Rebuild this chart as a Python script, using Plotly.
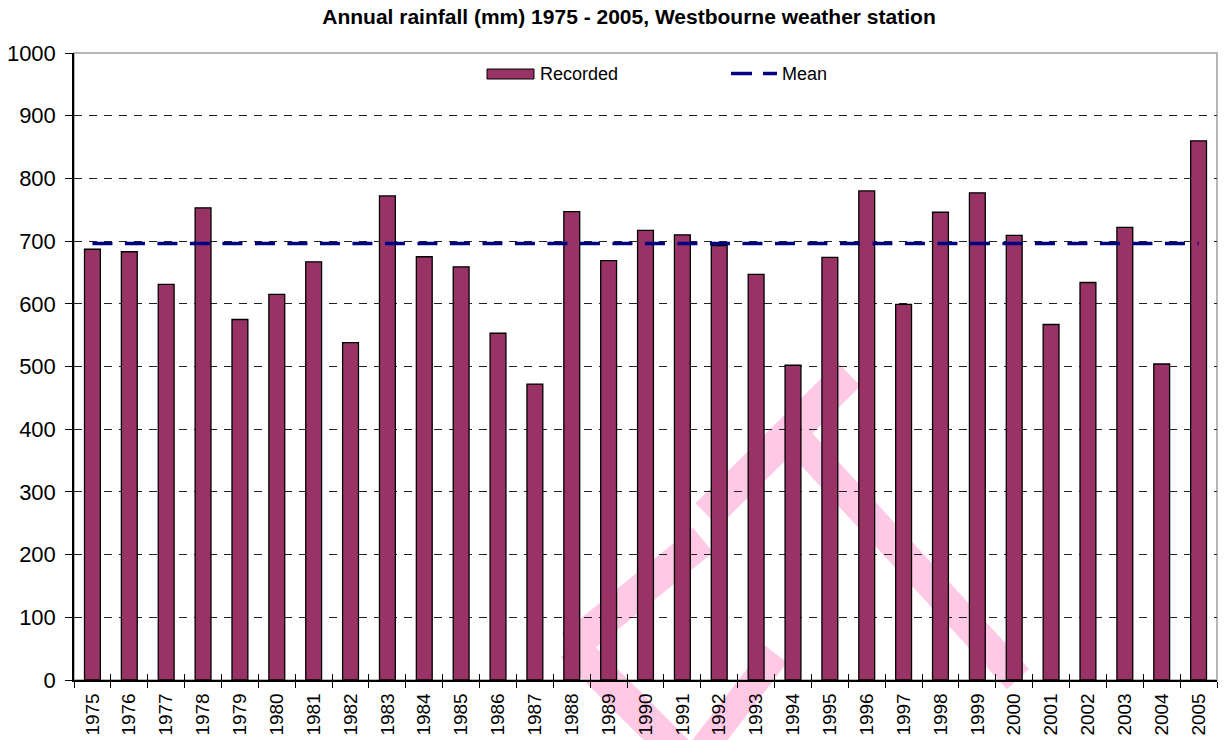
import math
import plotly.graph_objects as go

# ---- data -----------------------------------------------------------------
YEARS = ["1975", "1976", "1977", "1978", "1979", "1980", "1981", "1982",
         "1983", "1984", "1985", "1986", "1987", "1988", "1989", "1990",
         "1991", "1992", "1993", "1994", "1995", "1996", "1997", "1998",
         "1999", "2000", "2001", "2002", "2003", "2004", "2005"]
RAINFALL_MM = [687, 683, 631, 753, 575, 615, 667, 538, 772, 675,
               659, 553, 472, 747, 669, 717, 710, 693, 647, 502,
               674, 780, 599, 746, 777, 709, 567, 634, 722, 504, 860]
MEAN_MM = 696
Y_TICKS = [0, 100, 200, 300, 400, 500, 600, 700, 800, 900, 1000]

# ---- page geometry ----------------------------------------------------------
W, H = 1228, 740
M_L, M_R, M_T, M_B = 74, 11, 53, 60
PLOT_W = W - M_L - M_R
PLOT_H = H - M_T - M_B

FONT = "Liberation Sans, Arial, Helvetica, sans-serif"
BAR_COLOR = "#993366"
MEAN_COLOR = "#000080"


def px(x):
    """page pixel x -> paper fraction"""
    return (x - M_L) / PLOT_W


def py(y):
    """page pixel y (from top) -> paper fraction"""
    return (H - M_B - y) / PLOT_H


def band_path(p1, p2, width):
    """straight band with square ends between two page points"""
    (x1, y1), (x2, y2) = p1, p2
    dx, dy = x2 - x1, y2 - y1
    n = math.hypot(dx, dy)
    ox, oy = -dy / n * width / 2, dx / n * width / 2
    pts = [(x1 + ox, y1 + oy), (x2 + ox, y2 + oy),
           (x2 - ox, y2 - oy), (x1 - ox, y1 - oy)]
    return "M " + " L ".join(f"{px(a):.5f},{py(b):.5f}" for a, b in pts) + " Z"


# pink background stamp (page pixels: start, end, width)
STAMP_BANDS = [
    ((572, 646), (692, 766), 32),
    ((572, 646), (703, 540), 32),
    ((707, 515), (849, 374), 33),
    ((798, 440), (1018, 679), 30),
    ((690, 766), (776, 654), 28),
]

fig = go.Figure()

fig.add_bar(
    x=YEARS, y=RAINFALL_MM, name="Recorded",
    marker=dict(color=BAR_COLOR, line=dict(color="#000000", width=1.3)),
    showlegend=False,
)
fig.add_scatter(
    x=YEARS, y=[MEAN_MM] * len(YEARS), name="Mean", mode="lines",
    line=dict(color=MEAN_COLOR, width=3.5, dash="20px,12.5px"),
    xaxis="x2", yaxis="y", showlegend=False, hoverinfo="skip",
)

shapes = []
for a, b, w in STAMP_BANDS:
    shapes.append(dict(type="path", xref="paper", yref="paper",
                       path=band_path(a, b, w), fillcolor="#ffc9e6",
                       line=dict(width=0), layer="below"))

# plot-area frame
shapes.append(dict(type="rect", xref="paper", yref="paper", x0=0, x1=1, y0=0, y1=1,
                   line=dict(color="#a0a0a0", width=1.5), layer="below"))

# legend glyphs
shapes.append(dict(type="rect", xref="paper", yref="paper",
                   x0=px(487), x1=px(534), y0=py(79), y1=py(69),
                   fillcolor=BAR_COLOR, line=dict(color="#000000", width=1)))
for x0, x1 in [(731, 752), (763, 777)]:
    shapes.append(dict(type="line", xref="paper", yref="paper",
                       x0=px(x0), x1=px(x1), y0=py(73.5), y1=py(73.5),
                       line=dict(color=MEAN_COLOR, width=3.5)))

annotations = [
    dict(text="Recorded", xref="paper", yref="paper", x=px(538), y=py(74),
         xanchor="left", yanchor="middle", showarrow=False,
         font=dict(family=FONT, size=18, color="#000000")),
    dict(text="Mean", xref="paper", yref="paper", x=px(780), y=py(74),
         xanchor="left", yanchor="middle", showarrow=False,
         font=dict(family=FONT, size=18, color="#000000")),
]

fig.update_layout(
    width=W, height=H,
    margin=dict(l=M_L, r=M_R, t=M_T, b=M_B, pad=0),
    paper_bgcolor="#ffffff", plot_bgcolor="#ffffff",
    font=dict(family=FONT, color="#000000"),
    title=dict(
        text="<b>Annual rainfall (mm) 1975 - 2005, Westbourne weather station</b>",
        x=629 / W, xref="container", xanchor="center",
        y=1 - 17 / H, yref="container", yanchor="middle",
        font=dict(family=FONT, size=21, color="#000000"),
    ),
    bargap=0.57,
    showlegend=False,
    xaxis=dict(
        type="category", categoryorder="array", categoryarray=YEARS,
        range=[-0.5, len(YEARS) - 0.5],
        showline=True, linecolor="#000000", linewidth=1.5,
        ticks="outside", ticklen=6, tickwidth=1, tickcolor="#000000",
        tickson="boundaries", tickangle=-90, ticklabelstandoff=4,
        tickfont=dict(family=FONT, size=19, color="#000000"),
        showgrid=False, zeroline=False, automargin=False, fixedrange=True,
    ),
    xaxis2=dict(
        type="category", categoryorder="array", categoryarray=YEARS,
        overlaying="x", matches="x", anchor="y", side="bottom",
        ticks="inside", ticklen=6, tickwidth=1, tickcolor="#000000",
        tickson="boundaries", showticklabels=False,
        showgrid=False, showline=False, zeroline=False, automargin=False,
    ),
    yaxis=dict(
        range=[0, 1000], tickmode="array", tickvals=Y_TICKS,
        showline=True, linecolor="#000000", linewidth=1.5,
        ticks="outside", ticklen=7, tickwidth=1, tickcolor="#000000",
        tickfont=dict(family=FONT, size=22, color="#000000"),
        ticklabelstandoff=5,
        showgrid=True, gridcolor="#222222", gridwidth=1, griddash="8px,7px",
        zeroline=False, automargin=False, fixedrange=True,
    ),
    shapes=shapes,
    annotations=annotations,
)

fig.write_html("out.html")
